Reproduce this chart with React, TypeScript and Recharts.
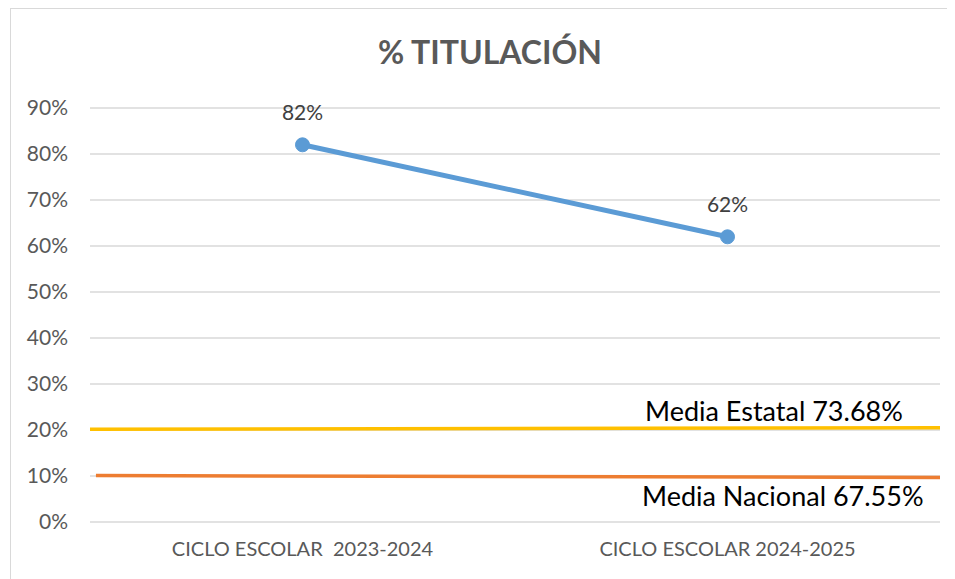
import React from "react"
import {
  LineChart,
  Line,
  XAxis,
  YAxis,
  CartesianGrid,
  LabelList,
  ReferenceLine,
} from "recharts"

const ciclos = ["CICLO ESCOLAR\u00a0\u00a02023-2024", "CICLO ESCOLAR 2024-2025"]
const titulacion = [82, 62]
const yTicks = [0, 10, 20, 30, 40, 50, 60, 70, 80, 90]
// decorative guide lines: [left edge, right edge] in % of the axis
const estatalLine = [20.15, 20.5]
const nacionalLine = [10.1, 9.7]
const estatalLabel = "Media Estatal 73.68%"
const nacionalLabel = "Media Nacional 67.55%"

const data = ciclos.map((ciclo, i) => ({ ciclo, valor: titulacion[i] }))

const font = "Lato, 'Open Sans', sans-serif"

const App = (): React.ReactElement => {
  return (
    <div style={{ position: "relative", width: 955, height: 579, margin: "-8px 0 0 -8px", overflow: "hidden", fontFamily: font }}>
      <div
        style={{
          position: "absolute",
          left: 10,
          top: 8,
          width: 945,
          height: 600,
          borderLeft: "1px solid #d9d9d9",
          borderTop: "1px solid #d9d9d9",
        }}
      />
      <div
        style={{
          position: "absolute",
          left: 0,
          width: 955,
          top: 32,
          textAlign: "center",
          paddingLeft: 25,
          boxSizing: "border-box",
          fontSize: 32,
          fontWeight: 700,
          color: "#595959",
        }}
      >
        % TITULACIÓN
      </div>
      <div style={{ position: "absolute", top: 0, left: 0 }}>
        <LineChart
          width={955}
          height={579}
          data={data}
          margin={{ top: 108, right: 15, left: 0, bottom: 0 }}
        >
          <CartesianGrid vertical={false} stroke="#d9d9d9" strokeWidth={1.5} />
          <XAxis
            dataKey="ciclo"
            scale="band"
            height={57}
            axisLine={false}
            tickLine={false}
            tickSize={0}
            tickMargin={20}
            tick={{ fill: "#595959", fontSize: 20, fontFamily: font }}
          />
          <XAxis xAxisId="edge" type="number" domain={[0, 1]} height={0} hide />
          <YAxis
            domain={[0, 90]}
            ticks={yTicks}
            width={90}
            axisLine={false}
            tickLine={false}
            tickSize={0}
            tickMargin={22}
            tickFormatter={(v: number) => `${v}%`}
            tick={{ fill: "#595959", fontSize: 21, fontFamily: font }}
          />
          <ReferenceLine
            xAxisId="edge"
            segment={[
              { x: 0, y: estatalLine[0] },
              { x: 1, y: estatalLine[1] },
            ]}
            stroke="#FFC000"
            strokeWidth={3.5}
          />
          <ReferenceLine
            xAxisId="edge"
            segment={[
              { x: 0.007, y: nacionalLine[0] },
              { x: 1, y: nacionalLine[1] },
            ]}
            stroke="#ED7D31"
            strokeWidth={3.5}
          />
          <Line
            dataKey="valor"
            stroke="#5B9BD5"
            strokeWidth={5}
            dot={{ r: 7, fill: "#5B9BD5", stroke: "#5B9BD5", strokeWidth: 1 }}
            isAnimationActive={false}
          >
            <LabelList
              dataKey="valor"
              position="top"
              offset={25}
              formatter={(v: number) => `${v}%`}
              style={{ fill: "#404040", fontSize: 21, fontFamily: font }}
            />
          </Line>
        </LineChart>
      </div>
      <div style={{ position: "absolute", left: 645, top: 394, fontSize: 27, color: "#000" }}>{estatalLabel}</div>
      <div style={{ position: "absolute", left: 642, top: 479, fontSize: 27, color: "#000" }}>{nacionalLabel}</div>
    </div>
  )
}

export default App
